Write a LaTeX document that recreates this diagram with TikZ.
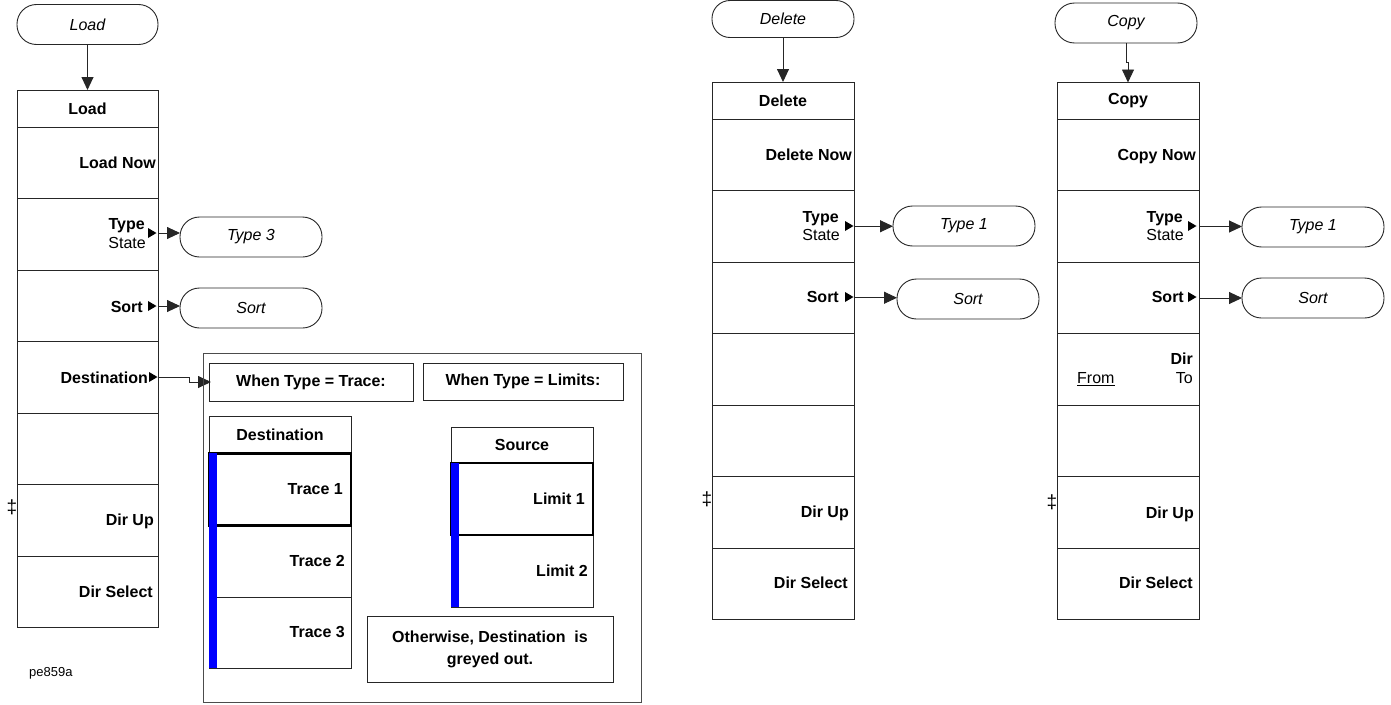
\documentclass[tikz,border=0pt]{standalone}
\usepackage{fontspec}
\setmainfont{Liberation Sans}
\usetikzlibrary{arrows.meta}
\tikzset{
  ln/.style={draw=black!85, line width=0.9pt},
  cell/.style={ln, rectangle, minimum width=142pt, minimum height=71.5pt, inner sep=0pt, outer sep=0pt},
  hdr/.style={cell, minimum height=37pt, font=\bfseries\fontsize{16}{18}\selectfont},
  thick cell/.style={cell, draw=black, line width=2.4pt},
  pill/.style={ln, rectangle, rounded corners=19.5pt, minimum width=142pt, minimum height=40pt, inner sep=0pt, outer sep=0pt, font=\itshape\fontsize{16}{18}\selectfont},
  lbl/.style={anchor=base east, inner sep=0pt, font=\bfseries\fontsize{16}{18}\selectfont},
  sub/.style={anchor=base east, inner sep=0pt, font=\fontsize{16}{18}\selectfont},
  box/.style={ln, rectangle, inner sep=0pt, outer sep=0pt, font=\bfseries\fontsize{16}{18}\selectfont},
  arr/.style={draw=black!85, line width=0.9pt, -{Triangle[length=13pt,width=12pt]}},
  dag/.style={inner sep=0pt, font=\fontsize{19}{21}\selectfont},
}
\newcommand\mkr[2]{\fill[black] (#1,#2-5) -- (#1+8.5,#2) -- (#1,#2+5) -- cycle;}
\begin{document}
\begin{tikzpicture}[x=1pt,y=-1pt]
\useasboundingbox (0,0) rectangle (1391,704);

% ---------------- Load column ----------------
\node[pill, minimum width=141pt] (lp) at (87.5,24.5) {Load};
\node[hdr, minimum width=141pt] (l0) at (87.5,108.5) {Load};
\node[cell, minimum width=141pt] (l1) at (87.5,162.75) {};
\node[cell, minimum width=141pt] (l2) at (87.5,234.25) {};
\node[cell, minimum width=141pt] (l3) at (87.5,305.75) {};
\node[cell, minimum width=141pt] (l4) at (87.5,377.25) {};
\node[cell, minimum width=141pt] (l5) at (87.5,448.75) {};
\node[cell, minimum width=141pt] (l6) at (87.5,520.25) {};
\node[cell, minimum width=141pt] (l7) at (87.5,591.75) {};
\node[lbl] at (156,168) {Load Now};
\node[lbl] at (145,229) {Type};
\node[sub] at (146,248.5) {State};
\node[lbl] at (143,312) {Sort};
\node[lbl] at (148,383) {Destination};
\node[lbl] at (154,525.5) {Dir Up};
\node[lbl] at (153,597.5) {Dir Select};
\node[dag] at (12,507) {‡};
\mkr{148}{233}
\mkr{148}{306}
\mkr{149}{377}

\node[pill] (p3) at (251,237) {Type 3};
\node[pill] (ps1) at (251,308) {Sort};
\draw[arr] (lp.south) -- (l0.north);
\draw[arr] (l2.east |- 0,233) -- (p3.west |- 0,233);
\draw[arr] (l3.east |- 0,306) -- (ps1.west |- 0,306);
\draw[arr] (l4.east) -- ++(31,0) |- (211,382);

% ---------------- Destination panel ----------------
\node[ln, draw=black!70, rectangle, minimum width=438pt, minimum height=349pt, inner sep=0pt] (ob) at (422,527.5) {};
\node[box, minimum width=204pt, minimum height=38pt] (wt) at (311,382) {When Type = Trace:};
\node[box, minimum width=200pt, minimum height=37pt] (wl) at (523,381.5) {When Type = Limits:};

\node[hdr] (t0) at (280,434.5) {Destination};
\node[cell, minimum height=72pt] (t2) at (280,561) {};
\node[cell, minimum height=71pt] (t3) at (280,632.5) {};
\node[thick cell, minimum height=72pt] (t1) at (280,489.5) {};
\fill[blue] (209,453) rectangle (217,668);
\node[lbl] at (343,494) {Trace 1};
\node[lbl] at (345,566) {Trace 2};
\node[lbl] at (345,637.5) {Trace 3};

\node[hdr, minimum height=36pt] (s0) at (522,445) {Source};
\node[cell, minimum height=72pt] (s2) at (522,571) {};
\node[thick cell, minimum height=72pt] (s1) at (522,499) {};
\fill[blue] (451,463) rectangle (459,607);
\node[lbl] at (585,504) {Limit 1};
\node[lbl] at (588,576) {Limit 2};

\node[box, minimum width=246pt, minimum height=66pt, align=center, font=\bfseries\fontsize{16}{22}\selectfont] (ow) at (490,649) {Otherwise, Destination\ \ is\\greyed out.};

\node[anchor=base west, inner sep=0pt, font=\fontsize{13}{15}\selectfont] (id) at (29,676.5) {pe859a};

% ---------------- Delete column ----------------
\node[pill, minimum height=37pt, rounded corners=18pt] (dp) at (783,19) {Delete};
\node[hdr] (d0) at (783,100.5) {Delete};
\node[cell] (d1) at (783,154.75) {};
\node[cell] (d2) at (783,226.25) {};
\node[cell] (d3) at (783,297.75) {};
\node[cell] (d4) at (783,369.25) {};
\node[cell] (d5) at (783,440.75) {};
\node[cell] (d6) at (783,512.25) {};
\node[cell] (d7) at (783,583.75) {};
\node[lbl] at (852,160) {Delete Now};
\node[lbl] at (839,222.5) {Type};
\node[sub] at (840,240.5) {State};
\node[lbl] at (839,302.5) {Sort};
\node[lbl] at (849,517.5) {Dir Up};
\node[lbl] at (848,588.5) {Dir Select};
\node[dag] at (707,499) {‡};
\mkr{845}{226}
\mkr{845}{297}
\node[pill] (dt) at (964,226) {Type 1};
\node[pill] (ds) at (968,299) {Sort};
\draw[arr] (dp.south) -- (d0.north);
\draw[arr] (d2.east) -- (d2.east -| dt.west);
\draw[arr] (d3.east) -- (d3.east -| ds.west);

% ---------------- Copy column ----------------
\node[pill] (cp) at (1126,23) {Copy};
\node[hdr] (c0) at (1128,101) {Copy};
\node[cell] (c1) at (1128,155) {};
\node[cell] (c2) at (1128,226.5) {};
\node[cell] (c3) at (1128,298) {};
\node[cell] (c4) at (1128,369.5) {};
\node[cell] (c5) at (1128,441) {};
\node[cell] (c6) at (1128,512.5) {};
\node[cell] (c7) at (1128,584) {};
\node[lbl] at (1196,160) {Copy Now};
\node[lbl] at (1183,222.5) {Type};
\node[sub] at (1184,240.5) {State};
\node[lbl] at (1184,302.5) {Sort};
\node[lbl] at (1193,364.5) {Dir};
\node[sub] at (1193,383.5) {To};
\node[anchor=base west, inner sep=0pt, font=\fontsize{16}{18}\selectfont] at (1077,383.5) {\underline{From}};
\node[lbl] at (1194,518.5) {Dir Up};
\node[lbl] at (1193,588.5) {Dir Select};
\node[dag] at (1052,502) {‡};
\mkr{1188}{226}
\mkr{1188}{297}
\node[pill] (ct) at (1313,227) {Type 1};
\node[pill] (cs) at (1313,298) {Sort};
\draw[arr] (cp.south) -- ++(0,19) -| (c0.north);
\draw[arr] (c2.east) -- (c2.east -| ct.west);
\draw[arr] (c3.east) -- (c3.east -| cs.west);
\end{tikzpicture}
\end{document}
